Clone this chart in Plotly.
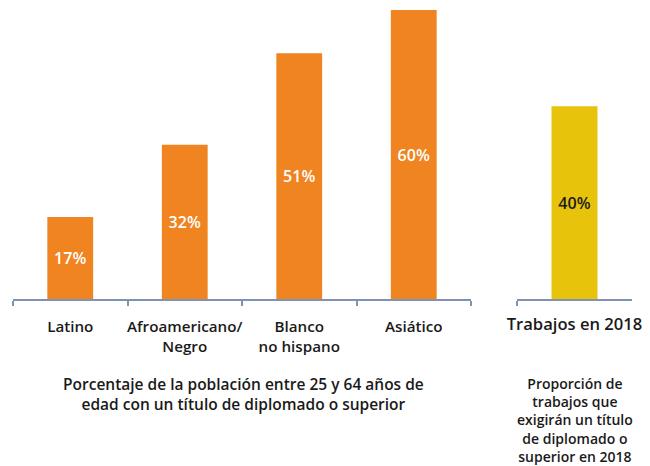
import plotly.graph_objects as go

groups = ["Latino", "Afroamericano/<br>Negro", "Blanco<br>no hispano", "Asiático"]
group_values = [17, 32, 51, 60]
jobs_category = ["Trabajos en 2018"]
jobs_values = [40]

orange = "#EF8420"
yellow = "#E7C30B"
axis_color = "#7E93B3"
font_family = "Open Sans, Noto Sans, sans-serif"
text_color = "#1a1a1a"

# figure is drawn inside the page's default 8px body margin
W, H, OFF = 642, 458, 8
def fx(px):
    return (px - OFF) / W
def fy(py):
    return 1 - (py - OFF) / H

fig = go.Figure()
fig.add_trace(go.Bar(
    x=groups, y=group_values, xaxis="x", yaxis="y",
    marker=dict(color=orange, line=dict(width=0)),
    width=0.4,
    text=[f"{v}%" for v in group_values],
    textposition="inside", insidetextanchor="middle",
    textfont=dict(color="white", size=16, family=font_family, weight=600),
    hoverinfo="skip",
))
fig.add_trace(go.Bar(
    x=jobs_category, y=jobs_values, xaxis="x2", yaxis="y2",
    marker=dict(color=yellow, line=dict(width=0)),
    width=0.4,
    text=[f"{v}%" for v in jobs_values],
    textposition="inside", insidetextanchor="middle",
    textfont=dict(color=text_color, size=16, family=font_family, weight=600),
    hoverinfo="skip",
))

common_x = dict(
    type="category", showgrid=False, zeroline=False,
    showline=True, linecolor=axis_color, linewidth=1.5,
    ticks="outside", tickson="boundaries", ticklen=5, tickcolor=axis_color, tickwidth=1.5,
    tickangle=0, automargin=False,
)
fig.update_layout(
    width=W, height=H,
    margin=dict(l=0, r=0, t=0, b=0),
    paper_bgcolor="white", plot_bgcolor="white",
    showlegend=False,
    font=dict(family=font_family, color=text_color),
    xaxis=dict(domain=[fx(13), fx(471)], anchor="y", range=[-0.5, 3.5],
               ticklabelstandoff=13,
               tickfont=dict(size=15.2, family=font_family, weight=600, color=text_color),
               **common_x),
    xaxis2=dict(domain=[fx(517), fx(632)], anchor="y2", range=[-0.5, 0.5],
                ticklabelstandoff=9,
                tickfont=dict(size=16.6, family=font_family, weight=600, color=text_color),
                **common_x),
    yaxis=dict(domain=[fy(299), fy(10)], range=[0, 60], visible=False,
               fixedrange=True, automargin=False),
    yaxis2=dict(domain=[fy(299), fy(10)], range=[0, 60], visible=False,
                anchor="x2", fixedrange=True, automargin=False),
    bargap=0.6,
)

fig.add_annotation(
    text="Porcentaje de la población entre 25 y 64 años de<br>edad con un título de diplomado o superior",
    xref="paper", yref="paper", x=fx(243), y=fy(371), xanchor="center", yanchor="top",
    showarrow=False, align="center",
    font=dict(size=15.5, family=font_family, weight=600, color=text_color),
)
fig.add_annotation(
    text="Proporción de<br>trabajos que<br>exigirán un título<br>de diplomado o<br>superior en 2018",
    xref="paper", yref="paper", x=fx(575), y=fy(372), xanchor="center", yanchor="top",
    showarrow=False, align="center",
    font=dict(size=14, family=font_family, weight=600, color=text_color),
)

fig.write_html("out.html")
